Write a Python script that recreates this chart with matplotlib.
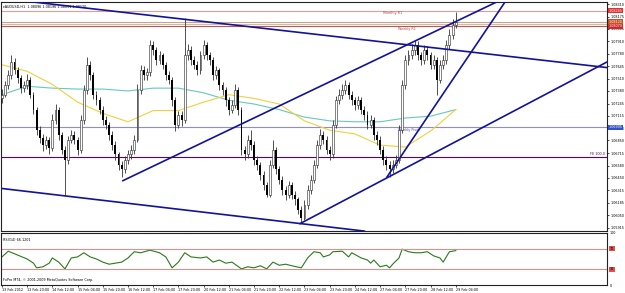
import matplotlib
matplotlib.use("Agg")
import matplotlib.pyplot as plt
import numpy as np

# AUDUSD 2-hour candles, 13 Feb 2012 00:00 .. 29 Feb 2012 04:00
first_open = 1.0730
close = [1.0734, 1.0744, 1.0755, 1.0769, 1.0760, 1.0752, 1.0741, 1.0744, 1.0750, 1.0734,
         1.0718, 1.0696, 1.0688, 1.0680, 1.0686, 1.0677, 1.0707, 1.0718, 1.0691, 1.0675,
         1.0664, 1.0686, 1.0691, 1.0686, 1.0675, 1.0707, 1.0739, 1.0766, 1.0755, 1.0734,
         1.0728, 1.0718, 1.0707, 1.0702, 1.0691, 1.0680, 1.0670, 1.0659, 1.0654, 1.0664,
         1.0670, 1.0675, 1.0686, 1.0739, 1.0760, 1.0755, 1.0758, 1.0787, 1.0782, 1.0771,
         1.0776, 1.0766, 1.0755, 1.0750, 1.0728, 1.0702, 1.0712, 1.0707, 1.0776, 1.0782,
         1.0771, 1.0766, 1.0760, 1.0776, 1.0787, 1.0776, 1.0771, 1.0755, 1.0760, 1.0744,
         1.0739, 1.0728, 1.0718, 1.0723, 1.0739, 1.0718, 1.0675, 1.0670, 1.0686, 1.0680,
         1.0664, 1.0659, 1.0648, 1.0637, 1.0627, 1.0659, 1.0675, 1.0654, 1.0643, 1.0632,
         1.0627, 1.0637, 1.0627, 1.0622, 1.0611, 1.0602, 1.0616, 1.0632, 1.0643, 1.0659,
         1.0680, 1.0691, 1.0686, 1.0675, 1.0670, 1.0702, 1.0728, 1.0734, 1.0739, 1.0744,
         1.0734, 1.0728, 1.0723, 1.0728, 1.0718, 1.0712, 1.0702, 1.0707, 1.0691, 1.0686,
         1.0675, 1.0664, 1.0659, 1.0654, 1.0659, 1.0664, 1.0696, 1.0744, 1.0771, 1.0776,
         1.0782, 1.0787, 1.0776, 1.0771, 1.0782, 1.0776, 1.0766, 1.0771, 1.0750, 1.0766,
         1.0771, 1.0787, 1.0798, 1.0809, 1.0812]
high = [1.0740, 1.0749, 1.0760, 1.0776, 1.0773, 1.0764, 1.0755, 1.0749, 1.0756, 1.0753,
        1.0737, 1.0721, 1.0700, 1.0692, 1.0690, 1.0689, 1.0713, 1.0724, 1.0721, 1.0694,
        1.0679, 1.0690, 1.0696, 1.0695, 1.0689, 1.0712, 1.0744, 1.0774, 1.0770, 1.0758,
        1.0738, 1.0732, 1.0722, 1.0711, 1.0705, 1.0695, 1.0684, 1.0673, 1.0663, 1.0668,
        1.0675, 1.0680, 1.0691, 1.0745, 1.0766, 1.0765, 1.0763, 1.0793, 1.0791, 1.0785,
        1.0781, 1.0779, 1.0769, 1.0759, 1.0753, 1.0731, 1.0717, 1.0716, 1.0816, 1.0788,
        1.0786, 1.0775, 1.0770, 1.0781, 1.0793, 1.0790, 1.0780, 1.0774, 1.0765, 1.0763,
        1.0748, 1.0742, 1.0731, 1.0728, 1.0745, 1.0742, 1.0721, 1.0679, 1.0691, 1.0696,
        1.0684, 1.0668, 1.0662, 1.0652, 1.0641, 1.0664, 1.0686, 1.0678, 1.0658, 1.0647,
        1.0636, 1.0642, 1.0641, 1.0631, 1.0625, 1.0615, 1.0621, 1.0637, 1.0648, 1.0664,
        1.0686, 1.0697, 1.0695, 1.0690, 1.0679, 1.0707, 1.0733, 1.0740, 1.0745, 1.0750,
        1.0748, 1.0738, 1.0732, 1.0733, 1.0732, 1.0722, 1.0716, 1.0712, 1.0710, 1.0695,
        1.0690, 1.0679, 1.0668, 1.0663, 1.0664, 1.0669, 1.0702, 1.0750, 1.0777, 1.0782,
        1.0788, 1.0793, 1.0791, 1.0780, 1.0787, 1.0786, 1.0780, 1.0776, 1.0774, 1.0771,
        1.0776, 1.0792, 1.0804, 1.0815, 1.0822]
low = [1.0725, 1.0731, 1.0740, 1.0751, 1.0756, 1.0747, 1.0736, 1.0737, 1.0740, 1.0730,
       1.0713, 1.0691, 1.0682, 1.0674, 1.0676, 1.0671, 1.0674, 1.0703, 1.0686, 1.0670,
       1.0627, 1.0660, 1.0682, 1.0681, 1.0669, 1.0672, 1.0703, 1.0735, 1.0750, 1.0729,
       1.0723, 1.0713, 1.0702, 1.0697, 1.0686, 1.0675, 1.0664, 1.0653, 1.0646, 1.0650,
       1.0660, 1.0665, 1.0671, 1.0683, 1.0735, 1.0750, 1.0750, 1.0754, 1.0777, 1.0766,
       1.0767, 1.0761, 1.0750, 1.0745, 1.0722, 1.0695, 1.0698, 1.0701, 1.0704, 1.0771,
       1.0766, 1.0761, 1.0755, 1.0756, 1.0772, 1.0771, 1.0766, 1.0750, 1.0751, 1.0739,
       1.0734, 1.0722, 1.0712, 1.0714, 1.0720, 1.0712, 1.0669, 1.0664, 1.0666, 1.0675,
       1.0659, 1.0653, 1.0643, 1.0632, 1.0624, 1.0625, 1.0655, 1.0649, 1.0638, 1.0627,
       1.0621, 1.0623, 1.0622, 1.0616, 1.0606, 1.0598, 1.0600, 1.0612, 1.0628, 1.0639,
       1.0655, 1.0676, 1.0681, 1.0670, 1.0664, 1.0666, 1.0698, 1.0724, 1.0729, 1.0735,
       1.0729, 1.0723, 1.0718, 1.0719, 1.0713, 1.0707, 1.0697, 1.0698, 1.0686, 1.0680,
       1.0670, 1.0659, 1.0653, 1.0646, 1.0650, 1.0655, 1.0661, 1.0693, 1.0740, 1.0766,
       1.0772, 1.0777, 1.0771, 1.0766, 1.0767, 1.0771, 1.0761, 1.0762, 1.0734, 1.0746,
       1.0762, 1.0767, 1.0783, 1.0794, 1.0805]

# moving averages, read every 8 bars
ma_bar = [0, 8, 16, 24, 32, 40, 48, 56, 64, 72, 80, 88, 96, 104, 112, 120, 128, 136, 144]
ma_fast = [1.0766, 1.0759, 1.0745, 1.0726, 1.0714, 1.0705, 1.0717, 1.0717, 1.0726, 1.0734,
           1.0730, 1.0724, 1.0706, 1.0696, 1.0692, 1.0680, 1.0678, 1.0695, 1.0718]
ma_slow = [1.0734, 1.0743, 1.0741, 1.0740, 1.0740, 1.0738, 1.0741, 1.0741, 1.0736, 1.0728,
           1.0724, 1.0718, 1.0710, 1.0706, 1.0705, 1.0705, 1.0709, 1.0711, 1.0718]

rsi_bar = [0, 2, 4, 6, 8, 10, 11, 13, 15, 16, 18, 20, 22, 24, 26, 28, 30, 32, 34, 38,
           40, 42, 44, 47, 50, 52, 54, 56, 58, 60, 63, 65, 67, 69, 71, 73, 76, 78, 80, 82,
           84, 86, 88, 90, 92, 95, 97, 99, 101, 102, 104, 105, 108, 110, 111, 114, 116, 117, 118, 120,
           122, 123, 124, 126, 127, 129, 131, 133, 135, 137, 139, 140, 141, 142, 144]
rsi_val = [54, 65, 60, 55, 50, 42, 33, 35, 42, 52, 44, 31, 52, 54, 62, 54, 50, 44, 40, 44,
           52, 64, 62, 67, 62, 54, 33, 44, 62, 54, 52, 54, 44, 48, 42, 44, 31, 35, 33, 37,
           31, 44, 38, 40, 37, 33, 52, 64, 62, 54, 58, 64, 65, 54, 62, 52, 48, 42, 48, 35,
           38, 33, 40, 52, 69, 64, 62, 62, 64, 56, 52, 44, 54, 64, 66.12]

# trend lines: (bar, price) anchors
trend_x = [[0, 192], [-1, 115], [38.4, 158.1], [94.6, 192], [122.2, 160]]
trend_y = [[1.0837, 1.0763], [1.0634, 1.0588], [1.0642, 1.0835], [1.0596, 1.0769], [1.0646, 1.0835]]

level_price = [1.0824, 1.0812, 1.0810, 1.0807, 1.0699, 1.0667]
level_color = ["#e89a9a", "#c8a484", "#d8b8a0", "#b85858", "#8c8cd8", "#600060"]

tick_bar = list(range(0, 145, 8))
tick_text = ["13 Feb 2012", "13 Feb 20:00", "14 Feb 12:00", "15 Feb 04:00", "15 Feb 20:00",
             "16 Feb 12:00", "17 Feb 04:00", "17 Feb 20:00", "20 Feb 12:00", "21 Feb 04:00",
             "21 Feb 20:00", "22 Feb 12:00", "23 Feb 04:00", "23 Feb 20:00", "24 Feb 12:00",
             "27 Feb 04:00", "27 Feb 20:00", "28 Feb 12:00", "29 Feb 04:00"]
price_ticks = ["1.08310", "1.08175", "1.08045", "1.07910", "1.07780", "1.07645", "1.07510",
               "1.07380", "1.07245", "1.07115", "1.06980", "1.06850", "1.06715", "1.06580",
               "1.06450", "1.06315", "1.06185", "1.06050", "1.05915"]

fs = 2.4
fig = plt.figure(figsize=(6.25, 2.93), dpi=100)
ax = fig.add_axes([0.0016, 0.2116, 0.9696, 0.7816])
rx = fig.add_axes([0.0016, 0.0273, 0.9696, 0.1775], sharex=ax)

idx = np.arange(len(close))
c = np.array(close)
o = np.array([first_open] + close[:-1])
up = c >= o

for p, col in zip(level_price, level_color):
    ax.axhline(p, color=col, lw=0.8, zorder=1)

ax.plot(ma_bar, ma_slow, color="#66c8c0", lw=0.8, zorder=2)
ax.plot(ma_bar, ma_fast, color="#f0d040", lw=0.8, zorder=2)

ax.vlines(idx, low, high, color="#333333", lw=0.6, zorder=3)
ax.bar(idx[up], (c - o)[up], bottom=o[up], width=0.6, color="white",
       edgecolor="#222222", lw=0.4, zorder=4)
ax.bar(idx[~up], (o - c)[~up], bottom=c[~up], width=0.6, color="black", lw=0, zorder=4)

for tx, ty in zip(trend_x, trend_y):
    ax.plot(tx, ty, color="#12129a", lw=1.2, zorder=5)

ax.text(121, 1.0820, "Monthly R1", fontsize=fs, color="#c04040")
ax.text(125.7, 1.0803, "Weekly R1", fontsize=fs, color="#c04040")
ax.text(125.7, 1.0695, "Weekly Pivot", fontsize=fs, color="#4040c0")
ax.text(191.4, 1.0669, "FE 100.0", fontsize=fs, color="#600060", ha="right")
ax.text(0.003, 0.988, "\u25beAUDUSD,H1  1.08096 1.08196 1.08091 1.08120", fontsize=fs,
        transform=ax.transAxes, va="top")

ax.set_xlim(-0.3, 192)
ax.set_ylim(1.05881, 1.08332)
ax.yaxis.tick_right()
ax.set_yticks([float(t) for t in price_ticks])
ax.set_yticklabels(price_ticks)
ax.tick_params(axis="y", labelsize=fs, length=1.5, width=0.5, pad=1)
ax.tick_params(axis="x", bottom=False, labelbottom=False)

# highlighted price labels on the right
for p, txt, fc in [(1.0824, "1.08245", "#e03030"), (1.0812, "1.08120", "#c85020"),
                   (1.0807, "1.08070", "#d02828"), (1.0699, "1.06995", "#3050d0")]:
    ax.text(1.003, p, txt, transform=ax.get_yaxis_transform(), fontsize=fs, color="white",
            va="center", bbox=dict(boxstyle="square,pad=0.2", fc=fc, ec="none"), clip_on=False,
            zorder=10)

rx.plot(rsi_bar, rsi_val, color="#2a7a1a", lw=0.8)
rx.axhline(70, color="#d89090", lw=0.8)
rx.axhline(30, color="#d89090", lw=0.8)
rx.set_ylim(0, 100)
rx.yaxis.tick_right()
rx.set_yticks([100, 0])
rx.set_yticklabels(["100", "0"])
rx.tick_params(axis="y", labelsize=fs, length=0, pad=2)
for lv in [70, 30]:
    rx.text(1.005, lv, str(lv), transform=rx.get_yaxis_transform(), fontsize=fs, color="black",
            va="center", bbox=dict(boxstyle="square,pad=0.2", fc="#e05050", ec="none"), clip_on=False)
rx.text(0.003, 0.9, "RSI(14) 66.1201", fontsize=fs, transform=rx.transAxes, va="top")
rx.text(0.003, 0.05, "FxPro MT4, \u00a9 2001-2009 MetaQuotes Software Corp.", fontsize=fs,
        transform=rx.transAxes, va="bottom")
rx.set_xticks(tick_bar)
rx.set_xticklabels(tick_text, ha="left")
rx.tick_params(axis="x", labelsize=fs, length=1.5, width=0.5, pad=1)

for a in (ax, rx):
    for s in a.spines.values():
        s.set_linewidth(0.8)
        s.set_color("#222222")

fig.savefig("out.png", dpi=100)
